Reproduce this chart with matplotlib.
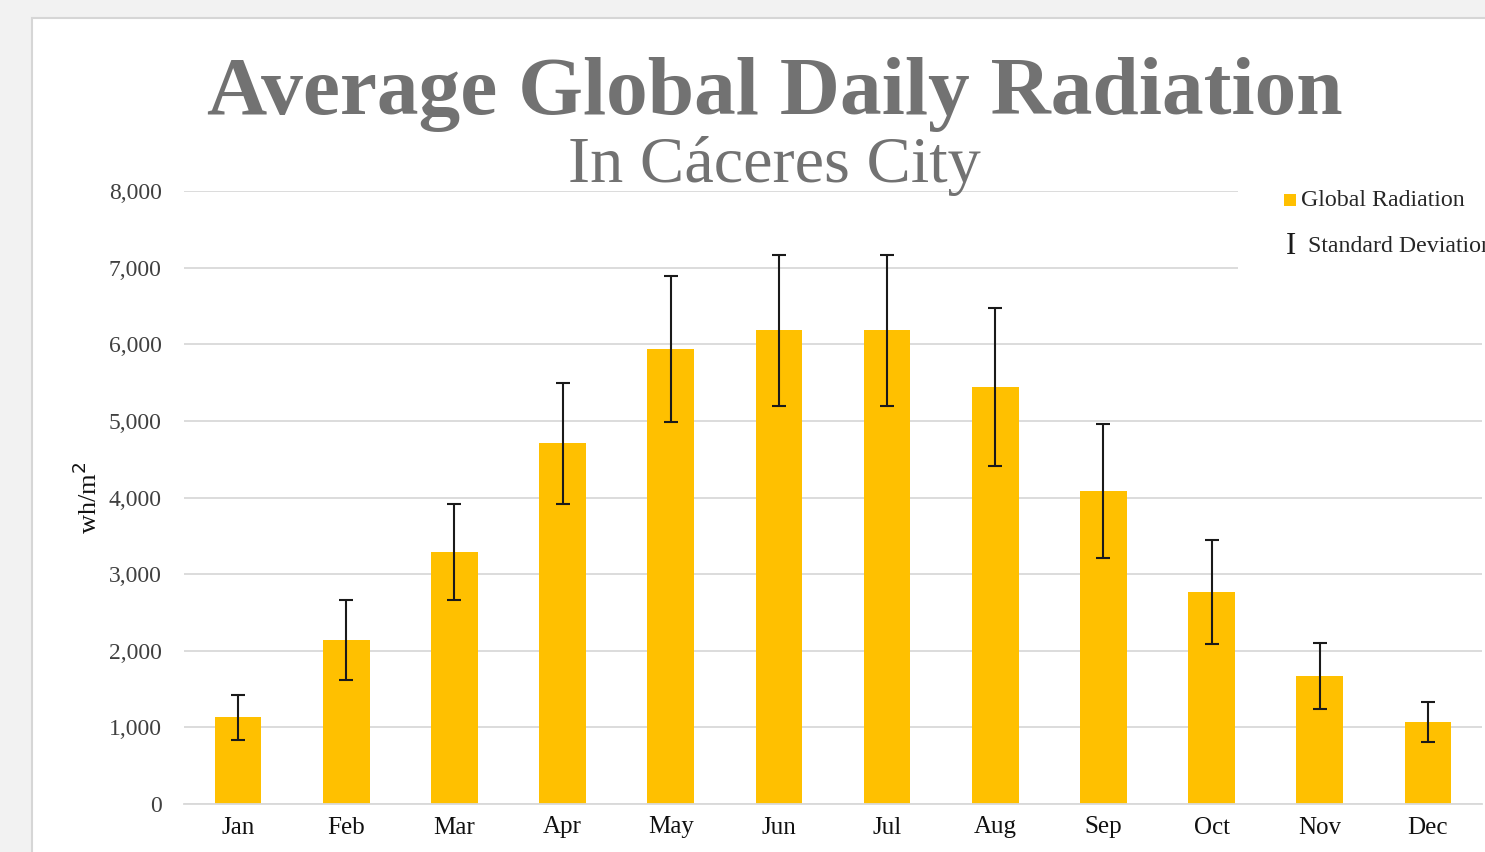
import matplotlib
matplotlib.use("Agg")
from matplotlib import pyplot as plt
from matplotlib.patches import Rectangle
import numpy as np

months = ['Jan', 'Feb', 'Mar', 'Apr', 'May', 'Jun',
          'Jul', 'Aug', 'Sep', 'Oct', 'Nov', 'Dec']
radiation = [1130, 2140, 3290, 4710, 5940, 6180,
             6180, 5440, 4080, 2770, 1670, 1070]
std_dev = [290, 520, 630, 790, 950, 980,
           990, 1030, 875, 680, 425, 265]
yticks = [0, 1000, 2000, 3000, 4000, 5000, 6000, 7000, 8000]

BAR = '#FFC000'
GRID = '#d9d9d9'
TITLE_GRAY = '#727272'
SERIF = ['Liberation Serif', 'DejaVu Serif']


def main():
    fig = plt.figure(figsize=(14.85, 8.52), dpi=100)
    fig.patch.set_facecolor('#f2f2f2')
    # white chart panel, running off the right and bottom edges
    fig.patches.append(Rectangle((32 / 1485, -0.1), 1.0, 1 - 18 / 852 + 0.1,
                                 transform=fig.transFigure, facecolor='white',
                                 edgecolor='#d6d6d6', linewidth=1.5, zorder=-1))

    ax = fig.add_axes([184 / 1485, 1 - 804 / 852, (1482 - 184) / 1485, (804 - 191) / 852])
    ax.set_zorder(1)
    ax.set_facecolor('none')
    x = np.arange(len(months))
    ax.bar(x, radiation, width=0.43, color=BAR, zorder=2)
    ax.errorbar(x, radiation, yerr=std_dev, fmt='none', ecolor='#1a1a1a',
                elinewidth=1.5, capsize=5, capthick=1.5, zorder=3)

    ax.set_xlim(-0.5, len(months) - 0.5)
    ax.set_ylim(0, 8000)
    ax.set_yticks(yticks)
    ax.set_yticklabels(['{:,}'.format(v) for v in yticks], family=SERIF,
                       fontsize=17, color='#404040')
    ax.set_xticks(x)
    ax.set_xticklabels(months, family=SERIF, fontsize=18, color='#111111')
    ax.tick_params(axis='both', length=0)
    ax.tick_params(axis='y', pad=16)
    ax.tick_params(axis='x', pad=9)
    ax.yaxis.grid(True, color=GRID, linewidth=1.3, zorder=0)
    ax.set_axisbelow(True)
    for side in ['left', 'right', 'top']:
        ax.spines[side].set_visible(False)
    ax.spines['bottom'].set_color(GRID)
    ax.spines['bottom'].set_linewidth(1.3)

    ax.set_ylabel('wh/m$^2$', family=SERIF, fontsize=19, color='#111111', labelpad=5)

    fig.text(775 / 1485, 1 - 114 / 852, 'Average Global Daily Radiation', family=SERIF,
             fontsize=60, fontweight='bold', color=TITLE_GRAY, ha='center', va='baseline')
    fig.text(774 / 1485, 1 - 182 / 852, 'In Cáceres City', family=SERIF,
             fontsize=47.8, color=TITLE_GRAY, ha='center', va='baseline')

    # legend box (covers the top grid lines on the right); text runs off the edge
    fig.patches.append(Rectangle((1238 / 1485, 1 - 290 / 852), 0.2, 110 / 852,
                                 transform=fig.transFigure, facecolor='white',
                                 edgecolor='none', zorder=5))
    fig.patches.append(Rectangle((1284 / 1485, 1 - 206 / 852), 12 / 1485, 12 / 852,
                                 transform=fig.transFigure, facecolor=BAR,
                                 edgecolor='none', zorder=6))
    fig.text(1301 / 1485, 1 - 200 / 852, 'Global Radiation', family=SERIF,
             fontsize=17.2, color='#262626', va='center', zorder=7)
    fig.text(1286 / 1485, 1 - 246 / 852, 'I', family=SERIF,
             fontsize=22, color='#1a1a1a', va='center', zorder=7)
    fig.text(1308 / 1485, 1 - 246 / 852, 'Standard Deviation', family=SERIF,
             fontsize=17.2, color='#262626', va='center', zorder=7)

    fig.savefig('out.png', dpi=100, facecolor=fig.get_facecolor())


if __name__ == '__main__':
    main()
